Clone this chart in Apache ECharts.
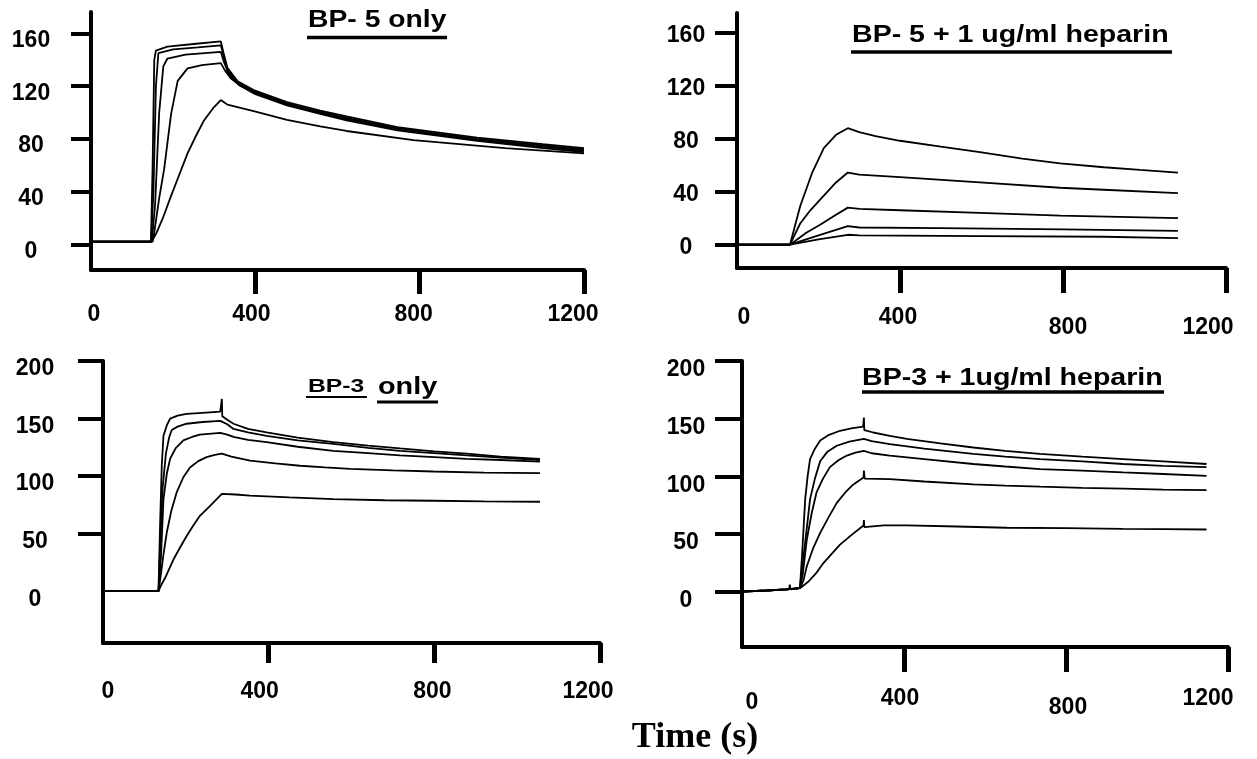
<!DOCTYPE html>
<html>
<head>
<meta charset="utf-8">
<script src="https://cdn.jsdelivr.net/npm/echarts@6/dist/echarts.min.js"></script>
<style>
html,body{margin:0;padding:0;background:#fff;}
#chart{width:1257px;height:759px;}
</style>
</head>
<body>
<div id="chart"></div>
<script>
// ---- tick labels ----
const xTickValues = [0, 400, 800, 1200];
const yTicksTop = [0, 40, 80, 120, 160];
const yTicksBottom = [0, 50, 100, 150, 200];

// ---- panel titles ----
const panelTitles = ['BP- 5 only', 'BP- 5 + 1 ug/ml heparin', 'BP-3', 'BP-3 + 1ug/ml heparin'];
const panel3TitleSuffix = 'only';
const xAxisTitle = 'Time (s)';

// ---- Panel 1: BP-5 only (time s, RU) ----
const bp5only_1 = [[0,2],[100,2],[146,2],[150,60],[154,140],[158,147],[186,150],[250,152],[316,154],[322,146],[332,134],[356,124],[396,117],[477,108],[558,101.5],[622,97],[746,89],[940,81],[1100,76],[1200,73]];
const bp5only_2 = [[0,2],[146,2],[152,40],[158,120],[164,145],[200,148],[260,149.5],[316,151],[322,144],[332,132],[356,123],[396,116],[477,107],[558,100.5],[622,96],[746,88],[940,80],[1100,75],[1200,72]];
const bp5only_3 = [[0,2],[148,2],[156,30],[166,100],[176,135],[186,141],[230,144],[316,146],[324,138],[336,129],[360,121],[400,115],[477,106],[558,99.5],[622,95],[746,87],[940,79],[1100,74],[1200,71]];
const bp5only_4 = [[0,2],[150,2],[154,9],[166,35],[178,57],[195,99],[211,124],[235,133.5],[270,136],[316,137.5],[326,132],[340,126],[365,120],[400,114],[477,105.5],[558,99],[622,94],[746,86.5],[940,78.5],[1100,73],[1200,70]];
const bp5only_5 = [[0,2],[148,2],[160,9],[175,20],[194,36],[215,53],[235,69],[255,82],[275,94],[299,104],[316,109.5],[332,106],[396,101],[477,94.5],[558,89.5],[622,86],[785,79],[1008,73],[1200,69]];

// ---- Panel 2: BP-5 + 1 ug/ml heparin ----
const bp5hep_1 = [[0,0],[60,0],[130,0],[155,29],[184,54],[213,73],[243,83],[272,88],[300,85],[340,82],[400,78.5],[500,74],[596,70],[700,65],[793,61.5],[900,58.5],[989,56.5],[1082,54.5]];
const bp5hep_2 = [[0,0],[130,0],[155,16],[180,26],[204,34],[243,47],[272,54.5],[300,53],[400,51],[596,47],[793,43],[900,41.5],[1082,39]];
const bp5hep_3 = [[0,0],[130,0],[170,9],[204,15],[240,22],[272,28],[300,27],[400,26],[596,24],[793,22],[1082,20]];
const bp5hep_4 = [[0,0],[130,0],[200,7],[272,14],[300,13],[498,12.5],[800,11.5],[1082,10.5]];
const bp5hep_5 = [[0,0],[130,0],[200,4],[272,7.5],[300,7],[600,6.5],[900,6],[1082,5]];

// ---- Panel 3: BP-3 only ----
const bp3only_1 = [[0,0],[100,0],[134,0],[138,60],[142,110],[146,135],[154,144],[162,150],[180,152.5],[202,154],[240,155],[283,156],[286,157],[287,167],[288,152],[300,149],[315,145.5],[350,141],[395,138],[470,133.5],[556,129.5],[640,126.5],[717,124],[800,121.5],[878,119.5],[960,117],[1055,115]];
const bp3only_2 = [[0,0],[134,0],[138,40],[144,90],[152,120],[160,134],[166,140],[180,143],[202,145.5],[240,147],[283,148],[300,145],[315,141],[350,138],[395,135],[470,131],[556,128],[640,124.5],[717,122],[800,120],[878,118],[960,116],[1055,114]];
const bp3only_3 = [[0,0],[134,0],[140,30],[146,80],[154,102],[162,115],[175,124],[194,131],[215,134],[234,136],[283,137.5],[300,136],[315,134],[350,131.5],[395,129.5],[470,125.5],[556,122],[640,120],[717,118],[800,116.5],[878,115],[960,114],[1055,112.5]];
const bp3only_4 = [[0,0],[134,0],[140,15],[146,32],[154,51],[165,70],[178,86],[194,99],[210,107.5],[230,113],[250,116.5],[270,118.5],[287,119.5],[310,117],[355,113.5],[416,111],[476,109],[536,107.5],[597,106.3],[700,105],[798,104],[920,103],[1055,102.5]];
const bp3only_5 = [[0,0],[134,0],[140,5],[152,13],[170,27.5],[186,38],[202,48],[218,57],[234,65.5],[258,74],[287,84.5],[320,84],[355,83],[450,81.5],[556,80],[680,79],[798,78.6],[920,78],[1055,77.7]];

// ---- Panel 4: BP-3 + 1ug/ml heparin ----
const bp3hep_1 = [[0,0],[60,1],[110,2],[116,2],[118,6],[120,2],[143,3],[148,30],[152,55],[156,80],[162,100],[168,115],[180,124],[193,131],[215,136],[242,139.5],[270,141.5],[299,143],[301,151],[302,140],[324,138],[365,135],[407,132.5],[490,128.5],[571,125],[650,122],[736,119.5],[840,117],[941,115],[1040,113],[1147,110.7]];
const bp3hep_2 = [[0,0],[60,1],[110,2],[143,3],[150,25],[160,55],[168,80],[180,98],[193,113],[210,121],[234,126.5],[265,130],[301,132.5],[320,130.5],[365,128],[450,124],[571,119.5],[650,117],[736,115],[840,113],[941,110.7],[1040,109],[1147,108]];
const bp3hep_3 = [[0,0],[60,1],[110,2],[143,3],[150,15],[160,45],[172,68],[184,86],[200,98],[217,108],[238,114],[259,118],[280,120.5],[301,122],[320,120],[365,118],[450,115],[571,110.7],[650,108.5],[736,106.3],[840,105],[941,103.4],[1040,102],[1147,100.4]];
const bp3hep_4 = [[0,0],[60,1],[110,2],[143,3],[152,10],[160,22],[175,37],[193,51],[213,64],[234,77],[255,86],[275,93],[300,99],[301,105],[303,98],[365,97.5],[450,95.5],[571,93],[650,92],[736,91],[840,90],[941,89.4],[1040,88.5],[1147,88]];
const bp3hep_5 = [[0,0],[60,1],[110,2],[143,3],[165,9],[183,16],[201,24.8],[222,33],[242,40.8],[270,49],[300,57.4],[301,62],[302,56],[350,57.4],[407,57.4],[530,56.5],[654,55.4],[800,55],[941,54.5],[1040,54.2],[1147,53.9]];

const panelSeries = [
  [bp5only_1, bp5only_2, bp5only_3, bp5only_4, bp5only_5],
  [bp5hep_1, bp5hep_2, bp5hep_3, bp5hep_4, bp5hep_5],
  [bp3only_1, bp3only_2, bp3only_3, bp3only_4, bp3only_5],
  [bp3hep_1, bp3hep_2, bp3hep_3, bp3hep_4, bp3hep_5]
];

// ---- layout (styles/positions) ----
const FONT = '"Liberation Sans", Arial, sans-serif';
const layout = [
  {grid:{left:91, top:12, width:493, height:258}, ymin:-19.5, ymax:176.3, yTicks:yTicksTop, yTickMarks:[0,40,80,120,160],
   yTickLen:20, xTickLen:24, yLabMargin:60, yLabShift:7, xLabMargin:33,
   xOff:{0:[3,0],400:[-4,0],800:[-6,0],1200:[-11,0]}},
  {grid:{left:737, top:13, width:489, height:255}, ymin:-17.6, ymax:175, yTicks:yTicksTop, yTickMarks:[0,40,80,120,160],
   yTickLen:22, xTickLen:25, yLabMargin:51, yLabShift:3, xLabMargin:38,
   xOff:{0:[7,0],400:[-2,0],800:[5,10],1200:[-18,10]}},
  {grid:{left:103, top:361, width:497, height:282}, ymin:-45, ymax:200, yTicks:yTicksBottom, yTickMarks:[50,100,150,200],
   yTickLen:25, xTickLen:20, yLabMargin:68, yLabShift:8, xLabMargin:37,
   xOff:{0:[5,0],400:[-9,0],800:[-2,0],1200:[-12,0]}},
  {grid:{left:742, top:361, width:486, height:286}, ymin:-48, ymax:200, yTicks:yTicksBottom, yTickMarks:[0,50,100,150,200],
   yTickLen:27, xTickLen:25, yLabMargin:56, yLabShift:9, xLabMargin:40,
   xOff:{0:[10,4],400:[-4,0],800:[2,9],1200:[-20,0]}}
];

const grids = [], xAxes = [], yAxes = [], series = [];
layout.forEach((L, i) => {
  grids.push(Object.assign({containLabel:false}, L.grid));
  const rich = {};
  xTickValues.forEach(v => {
    const o = L.xOff[v] || [0,0];
    const dx = o[0], dy = o[1];
    rich['v' + v] = {
      fontFamily: FONT, fontWeight: 'bold', fontSize: 23, color: '#000',
      padding: [dy, dx < 0 ? -2*dx : 0, 0, dx > 0 ? 2*dx : 0]
    };
  });
  xAxes.push({
    type:'value', gridIndex:i, min:0, max:1200, position:'bottom',
    axisLine:{show:true, onZero:false, lineStyle:{color:'#000', width:4}},
    axisTick:{show:true, inside:false, length:L.xTickLen, lineStyle:{color:'#000', width:5}, customValues:[400,800,1200]},
    axisLabel:{show:true, margin:L.xLabMargin, customValues:xTickValues, verticalAlign:'top',
      formatter: v => '{v' + v + '|' + v + '}', rich: rich},
    splitLine:{show:false}
  });
  const yRich = {t:{fontFamily:FONT, fontWeight:'bold', fontSize:23, color:'#000', padding:[2*L.yLabShift,0,0,0]}};
  yAxes.push({
    type:'value', gridIndex:i, min:L.ymin, max:L.ymax, position:'left',
    axisLine:{show:true, onZero:false, lineStyle:{color:'#000', width:4}},
    axisTick:{show:true, inside:false, length:L.yTickLen, lineStyle:{color:'#000', width:4}, customValues:L.yTickMarks},
    axisLabel:{show:true, customValues:L.yTicks, margin:L.yLabMargin, align:'center', verticalAlign:'middle',
      formatter: v => '{t|' + v + '}', rich: yRich},
    splitLine:{show:false}
  });
  panelSeries[i].forEach((arr) => {
    series.push({
      type:'line', xAxisIndex:i, yAxisIndex:i, data:arr, showSymbol:false, symbol:'none',
      lineStyle:{color:'#000', width:1.8}, silent:true, animation:false, z:3
    });
  });
});

// titles and underlines (graphic)
const titleFont = 'bold 24px "Liberation Sans", Arial, sans-serif';
function titleText(txt, x, y, font, sx) {
  return {type:'text', x:x, y:y, scaleX:sx, style:{text:txt, x:0, y:0, font:font, fill:'#000', align:'left', verticalAlign:'middle'}};
}
const graphic = [
  titleText(panelTitles[0], 308, 20, titleFont, 1.18),
  {type:'line', shape:{x1:307, y1:37.5, x2:447, y2:37.5}, style:{stroke:'#000', lineWidth:3.3}},
  titleText(panelTitles[1], 852, 35, titleFont, 1.19),
  {type:'line', shape:{x1:851, y1:52, x2:1172, y2:52}, style:{stroke:'#000', lineWidth:3.3}},
  titleText(panelTitles[2], 308, 387, 'bold 19px "Liberation Sans", Arial, sans-serif', 1.3),
  {type:'line', shape:{x1:306, y1:397, x2:367, y2:397}, style:{stroke:'#000', lineWidth:2}},
  titleText(panel3TitleSuffix, 378, 387, 'bold 24px "Liberation Sans", Arial, sans-serif', 1.2),
  {type:'line', shape:{x1:377, y1:402, x2:438, y2:402}, style:{stroke:'#000', lineWidth:3}},
  titleText(panelTitles[3], 862, 378, titleFont, 1.19),
  {type:'line', shape:{x1:862, y1:392, x2:1164, y2:392}, style:{stroke:'#000', lineWidth:3.3}},
  {type:'text', x:695, y:738, style:{text:xAxisTitle, x:0, y:0, font:'bold 36px "Liberation Serif", "Times New Roman", serif', fill:'#000', align:'center', verticalAlign:'middle'}}
];

const chart = echarts.init(document.getElementById('chart'), null, {renderer:'canvas'});
chart.setOption({
  backgroundColor:'#fff',
  animation:false,
  grid:grids, xAxis:xAxes, yAxis:yAxes, series:series, graphic:graphic
});
</script>
</body>
</html>
